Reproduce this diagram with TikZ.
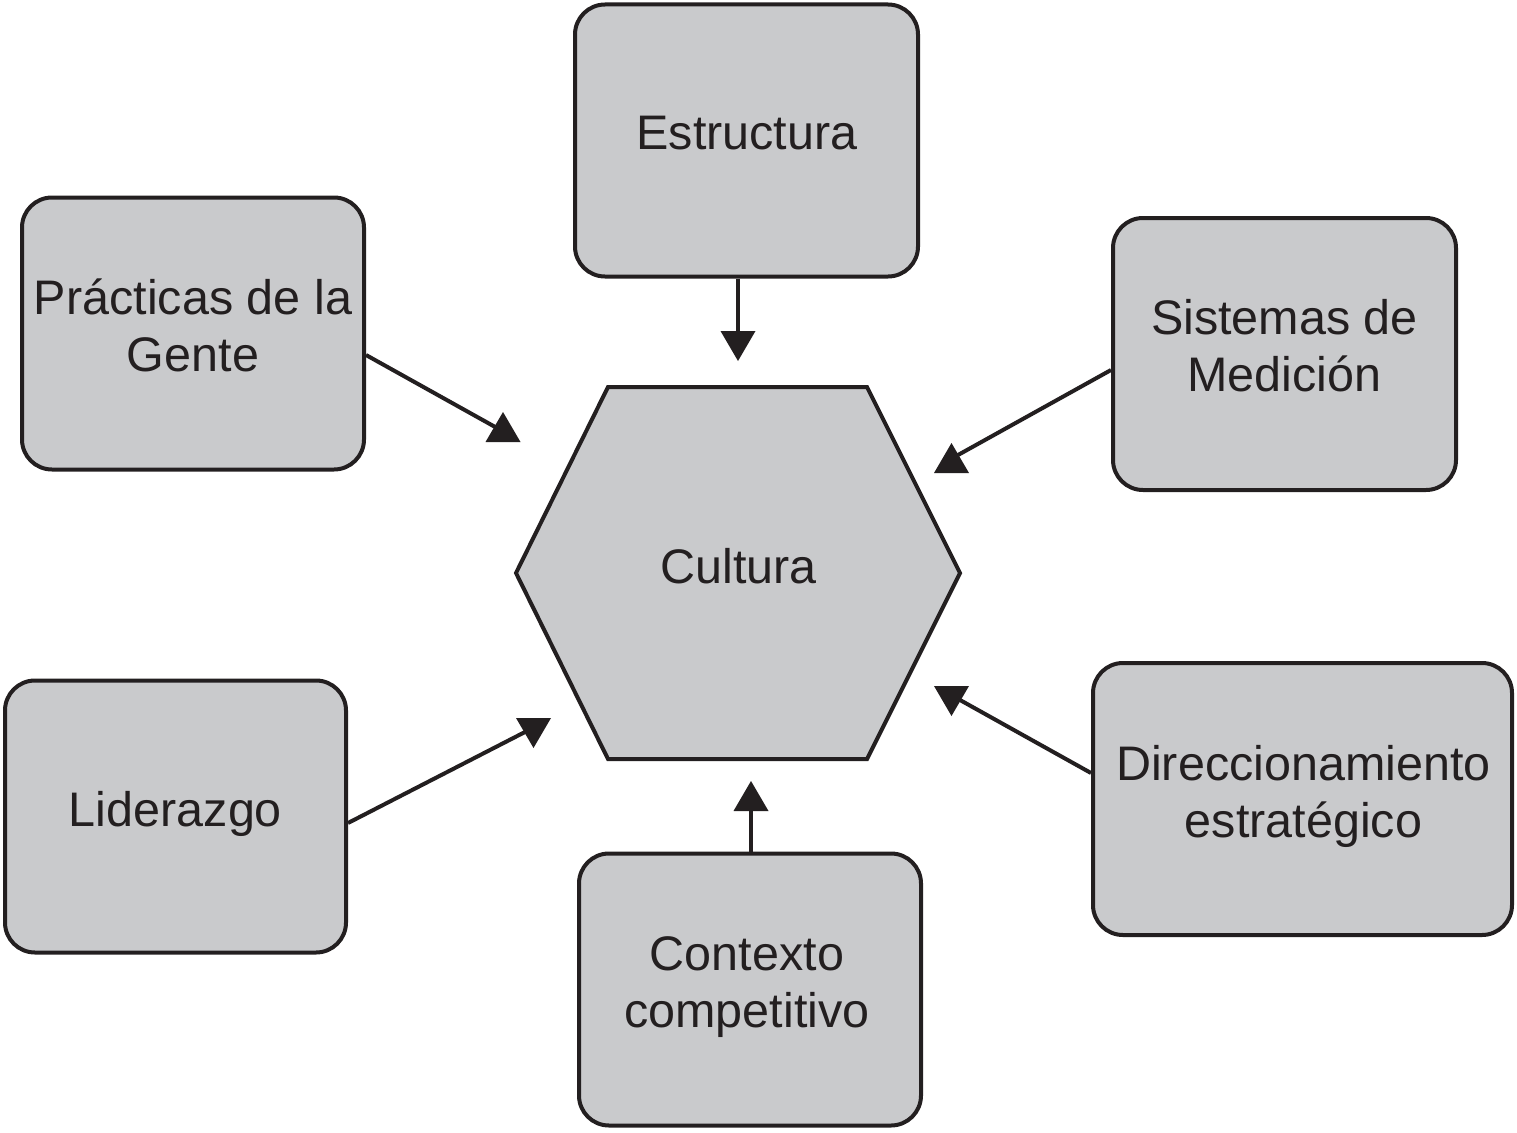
\documentclass[tikz,border=0pt]{standalone}
\usepackage{fontspec}
\setmainfont{Liberation Sans}
\usetikzlibrary{calc}
\definecolor{boxgray}{HTML}{C9CACC}
\definecolor{ink}{HTML}{231F20}
\begin{document}
\begin{tikzpicture}[x=1pt,y=-1pt,
  box/.style={draw=ink, line width=4pt, fill=boxgray, rounded corners=30pt,
    minimum height=272pt, inner sep=0pt},
  lbl/.style={text=ink, align=center, inner sep=0pt, font=\fontsize{48.5}{57}\selectfont},
  conn/.style={draw=ink, line width=4pt},
  dtri/.pic={\fill[ink] (-17.5,0) -- (17.5,0) -- (0,30) -- cycle;},
  utri/.pic={\fill[ink] (-17.5,0) -- (17.5,0) -- (0,-30) -- cycle;}
]
\useasboundingbox (0,0) rectangle (1517,1132);

% boxes
\node[box, minimum width=343pt, label={[lbl,yshift=7.5pt,xshift=0.5pt]center:Estructura}] (est) at (746.5,140.5) {};
\node[box, minimum width=342pt, label={[lbl,yshift=8.5pt]center:Prácticas de la\\Gente}] (prac) at (193,333.5) {};
\node[box, minimum width=343pt, label={[lbl,yshift=8pt]center:Sistemas de\\Medición}] (sis) at (1284.5,354) {};
\node[box, minimum width=341pt, label={[lbl,yshift=3pt]center:Liderazgo}] (lid) at (175.5,816.5) {};
\node[box, minimum width=342pt, label={[lbl,yshift=2pt,xshift=-3pt]center:Contexto\\competitivo}] (con) at (750,989.5) {};
\node[box, minimum width=419pt, label={[lbl,yshift=2.5pt,xshift=1pt]center:Direccionamiento\\estratégico}] (dir) at (1302.5,799) {};

% hexagon
\draw[draw=ink, line width=4pt, fill=boxgray]
  (516,573) -- (608,387) -- (867,387) -- (960,573) -- (867,759) -- (608,759) -- cycle;
\node[lbl] (cul) at (738.5,566) {Cultura};

% connector ends
\coordinate (tE) at (738,331);
\coordinate (tP) at (497,428);
\coordinate (tS) at (958,455);
\coordinate (tD) at (960,700);
\coordinate (tL) at (525,732);
\coordinate (tC) at (751,811);

\draw[conn] (est.south -| tE) -- (tE);
\draw[conn] ($(prac.east)+(0,21.5)$) -- (tP);
\draw[conn] ($(sis.west)+(0,16)$) -- (tS);
\draw[conn] ($(dir.west)+(0,-26)$) -- (tD);
\draw[conn] ($(lid.east)+(0,6.5)$) -- (tL);
\draw[conn] (con.north -| tC) -- (tC);

% arrowheads
\pic at (738,331) {dtri};
\pic at (503,442) {utri};
\pic at (951.5,473) {utri};
\pic at (951.5,686) {dtri};
\pic at (533.5,718) {dtri};
\pic at (751,811) {utri};
\end{tikzpicture}
\end{document}
